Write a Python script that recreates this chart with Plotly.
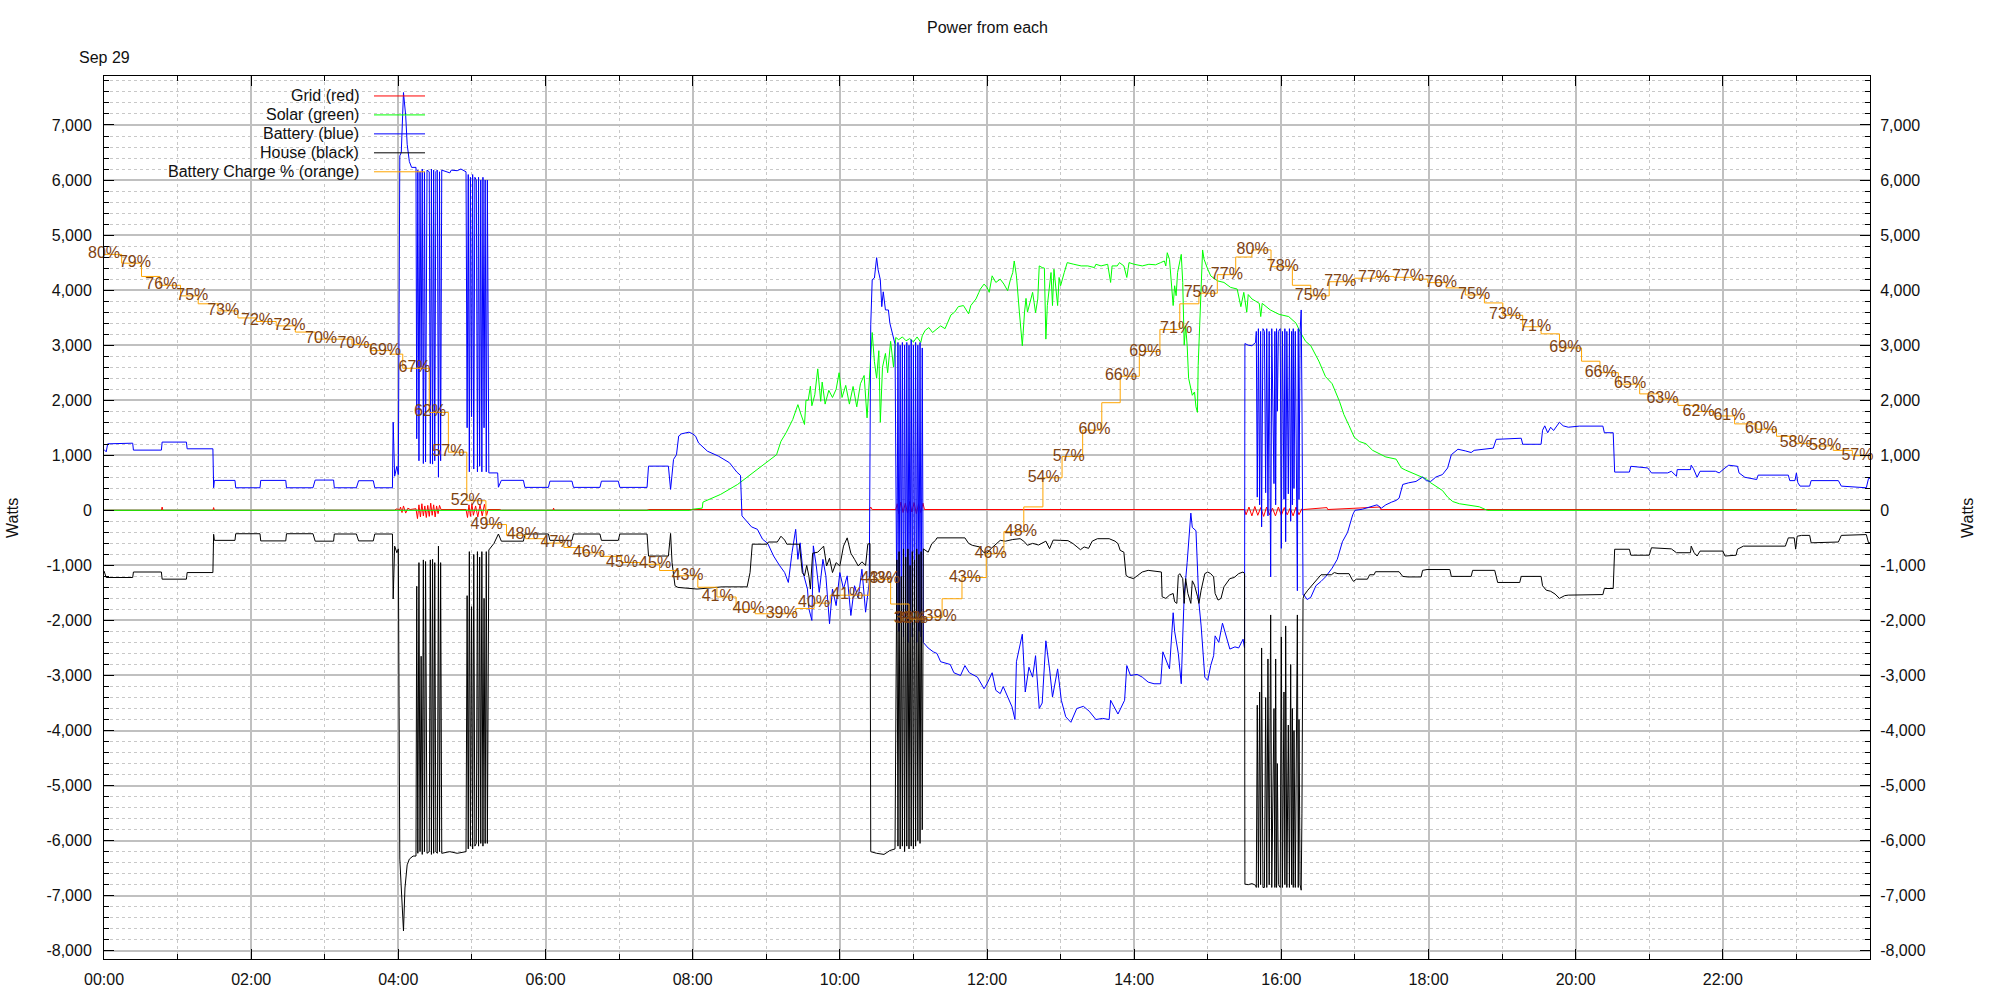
import numpy as np
import pandas as pd
import plotly.graph_objects as go

DAY = "2023-09-29"

# ---------------- data (hour of day, watts) ----------------
GRID = [
    (0.00, 0), (0.78, 0), (0.79, 60), (0.80, 0), (1.48, 0), (1.49, 50), (1.50, 0), (3.95, 0),
    (3.97, 25), (4.02, 15), (4.03, 60), (4.05, -40), (4.07, 80), (4.10, -50), (4.13, 40), (4.16, 15),
    (4.24, 30), (4.26, -150), (4.28, 100), (4.30, -120), (4.32, 120), (4.34, -100), (4.36, 80),
    (4.38, -130), (4.40, 90), (4.42, -110), (4.44, 130), (4.46, -90), (4.48, 100), (4.50, -120),
    (4.52, 80), (4.54, -60), (4.56, 90), (4.58, 15), (4.92, 15), (4.94, -130), (4.96, 100),
    (4.98, -110), (5.00, 120), (5.02, -90), (5.05, 80), (5.08, -120), (5.11, 100), (5.14, -100),
    (5.17, 110), (5.20, -90), (5.22, 15), (5.38, 15), (5.40, 0), (6.10, 0), (6.11, 40), (6.12, 0),
    (7.38, 0), (7.40, 15), (10.40, 15), (10.42, 60), (10.44, 15), (10.76, 15), (10.78, 120),
    (10.80, -60), (10.83, 150), (10.86, -40), (10.89, 130), (10.92, -50), (10.95, 160), (10.98, -30),
    (11.01, 140), (11.04, -60), (11.07, 120), (11.10, -40), (11.13, 130), (11.15, 15), (15.50, 15),
    (15.52, -80), (15.56, 60), (15.60, -100), (15.64, 70), (15.68, -90), (15.72, 50), (15.76, -110),
    (15.80, 60), (15.84, -80), (15.88, 40), (15.92, -100), (15.96, 60), (16.00, -90), (16.04, 50),
    (16.08, -80), (16.12, 40), (16.16, -100), (16.20, 60), (16.24, -80), (16.28, 30), (16.30, 15),
    (16.62, 50), (16.63, 15), (17.34, 60), (17.35, 15), (23.00, 15), (23.01, 0), (24.00, 0),
]

SOLAR = [
    (0.00, 0), (7.96, 0), (8.00, 20), (8.13, 40), (8.14, 150), (8.38, 290), (8.61, 470), (8.79, 650),
    (8.92, 775), (9.06, 925), (9.14, 1010), (9.20, 1255), (9.27, 1410), (9.36, 1650), (9.43, 1920),
    (9.47, 1750), (9.52, 1560), (9.54, 2000), (9.57, 2000), (9.60, 2255), (9.62, 1900), (9.66, 2100),
    (9.68, 2330), (9.70, 2570), (9.74, 1980), (9.76, 2330), (9.80, 1930), (9.85, 2180), (9.90, 2050),
    (9.95, 2200), (9.99, 2500), (10.03, 2050), (10.08, 2270), (10.13, 1930), (10.18, 2250),
    (10.23, 1880), (10.28, 2300), (10.33, 2450), (10.37, 1680), (10.42, 2880), (10.44, 3230),
    (10.47, 2700), (10.50, 2400), (10.53, 2900), (10.55, 1600), (10.58, 2600), (10.62, 2850),
    (10.65, 2500), (10.69, 3070), (10.73, 2600), (10.76, 3140), (10.80, 3100), (10.85, 3150),
    (10.90, 3080), (10.95, 3120), (11.00, 3060), (11.05, 3150), (11.10, 3050), (11.12, 3170),
    (11.16, 3270), (11.21, 3320), (11.26, 3230), (11.30, 3280), (11.37, 3350), (11.43, 3300),
    (11.48, 3480), (11.51, 3550), (11.56, 3600), (11.61, 3700), (11.68, 3720), (11.72, 3630),
    (11.75, 3570), (11.78, 3720), (11.85, 3840), (11.89, 3960), (11.91, 4020), (11.96, 4110),
    (12.00, 4050), (12.03, 3960), (12.07, 4260), (12.12, 4140), (12.18, 4200), (12.23, 4110),
    (12.28, 3990), (12.32, 4200), (12.35, 4320), (12.37, 4530), (12.40, 4260), (12.44, 3600),
    (12.46, 3350), (12.48, 2990), (12.51, 3600), (12.53, 3850), (12.55, 3600), (12.60, 3840),
    (12.62, 3960), (12.64, 3780), (12.66, 3590), (12.69, 3840), (12.71, 4440), (12.75, 4410),
    (12.78, 4400), (12.80, 3110), (12.82, 3720), (12.87, 4320), (12.89, 3720), (12.91, 4380),
    (12.96, 3720), (12.98, 4230), (13.00, 4080), (13.05, 4320), (13.09, 4500), (13.18, 4470),
    (13.28, 4440), (13.37, 4440), (13.46, 4410), (13.48, 4470), (13.55, 4440), (13.64, 4470),
    (13.68, 4140), (13.70, 4440), (13.77, 4440), (13.80, 4500), (13.86, 4440), (13.90, 4230),
    (13.93, 4500), (14.00, 4470), (14.11, 4440), (14.20, 4470), (14.29, 4460), (14.36, 4500),
    (14.41, 4530), (14.43, 4440), (14.45, 4680), (14.48, 4560), (14.50, 4200), (14.53, 3720),
    (14.55, 4080), (14.57, 3900), (14.59, 4320), (14.62, 4560), (14.64, 4650), (14.66, 4140),
    (14.68, 3000), (14.70, 3350), (14.72, 3000), (14.74, 2400), (14.77, 2210), (14.79, 2090),
    (14.82, 2150), (14.84, 1880), (14.86, 1780), (14.87, 2630), (14.89, 3350), (14.91, 4140),
    (14.93, 4730), (14.95, 4560), (14.98, 4440), (15.00, 4380), (15.04, 4260), (15.13, 4170),
    (15.22, 4140), (15.31, 4050), (15.40, 4020), (15.45, 3700), (15.49, 3960), (15.53, 3600),
    (15.55, 3920), (15.60, 3840), (15.65, 3800), (15.70, 3760), (15.72, 3520), (15.74, 3760),
    (15.85, 3640), (15.97, 3560), (16.10, 3520), (16.20, 3400), (16.26, 3230), (16.33, 3070),
    (16.40, 2990), (16.51, 2710), (16.60, 2430), (16.69, 2300), (16.79, 1980), (16.85, 1740),
    (16.92, 1540), (16.99, 1330), (17.06, 1250), (17.15, 1210), (17.24, 1090), (17.42, 970),
    (17.56, 930), (17.63, 770), (17.69, 730), (17.83, 650), (17.97, 570), (18.03, 500), (18.10, 445),
    (18.19, 360), (18.26, 240), (18.33, 160), (18.42, 120), (18.56, 97), (18.69, 65), (18.80, 0),
    (24.00, 0),
]

BATTERY = [
    (0.00, 1105), (0.03, 1063), (0.05, 1208), (0.39, 1220), (0.40, 1094), (0.78, 1094), (0.79, 1240),
    (1.12, 1240), (1.13, 1118), (1.48, 1118), (1.49, 410), (1.50, 544), (1.78, 544), (1.79, 410),
    (2.12, 410), (2.13, 544), (2.47, 544), (2.48, 410), (2.84, 410), (2.87, 550), (3.12, 550),
    (3.13, 410), (3.43, 410), (3.46, 538), (3.66, 538), (3.68, 410), (3.92, 410), (3.93, 1600),
    (3.95, 620), (3.98, 800), (4.00, 650), (4.02, 6440), (4.04, 6500), (4.07, 7590), (4.10, 7170),
    (4.12, 6650), (4.15, 6335), (4.18, 6230),
    (4.240, 6230), (4.250, 1300), (4.265, 6180), (4.280, 900), (4.295, 6150), (4.310, 2600),
    (4.325, 6200), (4.340, 850), (4.355, 6150), (4.370, 880), (4.390, 6180), (4.420, 6150),
    (4.435, 850), (4.450, 6200), (4.465, 840), (4.480, 6180), (4.495, 900), (4.510, 6150),
    (4.530, 6180), (4.545, 600), (4.560, 6150), (4.575, 900), (4.590, 6180),
    (4.65, 6150), (4.70, 6130), (4.72, 6180), (4.80, 6170), (4.85, 6200), (4.90, 6160),
    (4.920, 6150), (4.935, 1500), (4.950, 6100), (4.965, 700), (4.980, 6050), (4.995, 1700),
    (5.010, 6100), (5.025, 750), (5.040, 6050), (5.060, 6000), (5.075, 700), (5.090, 6050),
    (5.105, 800), (5.120, 6000), (5.135, 700), (5.150, 6050), (5.165, 1500), (5.180, 6000),
    (5.195, 700), (5.210, 6000), (5.222, 1600), (5.230, 680),
    (5.35, 680), (5.36, 420), (5.40, 545), (5.70, 545), (5.72, 417), (6.04, 417), (6.06, 530),
    (6.36, 530), (6.38, 417), (6.74, 417), (6.76, 530), (6.99, 530), (7.01, 417), (7.38, 417),
    (7.40, 803), (7.67, 803), (7.70, 380), (7.74, 925), (7.78, 1010), (7.81, 1350), (7.85, 1390),
    (7.95, 1420), (8.00, 1390), (8.04, 1347), (8.08, 1225), (8.20, 1075), (8.35, 985), (8.50, 865),
    (8.60, 695), (8.65, 635), (8.67, -100), (8.72, -180), (8.80, -300), (8.88, -345), (8.95, -525),
    (9.02, -600), (9.10, -830), (9.18, -1000), (9.25, -1130), (9.30, -1310), (9.35, -770),
    (9.40, -345), (9.43, -890), (9.46, -590), (9.50, -1130), (9.56, -1430), (9.58, -1790),
    (9.62, -2000), (9.64, -645), (9.68, -1010), (9.72, -1490), (9.77, -890), (9.81, -1190),
    (9.86, -2060), (9.90, -1430), (9.95, -1730), (10.00, -1130), (10.05, -1430), (10.10, -1190),
    (10.15, -1910), (10.20, -1370), (10.25, -1600), (10.30, -1070), (10.35, -1850), (10.40, -1300),
    (10.42, 3370), (10.44, 4190), (10.47, 4220), (10.50, 4590), (10.52, 4370), (10.55, 4190),
    (10.57, 3700), (10.59, 3970), (10.62, 3640), (10.66, 3640), (10.68, 3400), (10.71, 3220),
    (10.75, 3020),
    (10.775, -1900), (10.79, 3050), (10.805, -2200), (10.82, 3000), (10.835, -1700), (10.85, 3050),
    (10.865, -2300), (10.88, 3000), (10.895, -2000), (10.91, 3050), (10.925, -2400), (10.94, 3000),
    (10.955, -1900), (10.97, 3100), (10.985, -2300), (11.00, 3000), (11.015, -2000), (11.03, 3050),
    (11.045, -2400), (11.06, 3000), (11.075, -2200), (11.09, 3050), (11.105, -2300), (11.12, 2950),
    (11.135, -2400),
    (11.20, -2500), (11.27, -2570), (11.32, -2600), (11.37, -2750), (11.45, -2780), (11.50, -2800),
    (11.55, -2950), (11.64, -3000), (11.70, -2820), (11.76, -2950), (11.87, -3030), (11.96, -3240),
    (12.00, -3150), (12.05, -3000), (12.07, -2950), (12.12, -3270), (12.18, -3330), (12.22, -3200),
    (12.28, -3390), (12.34, -3570), (12.38, -3800), (12.40, -2750), (12.48, -2250), (12.52, -3300),
    (12.57, -2850), (12.62, -3030), (12.66, -2640), (12.71, -3600), (12.75, -3500), (12.80, -2370),
    (12.85, -2880), (12.89, -3390), (12.96, -2880), (13.01, -3450), (13.07, -3750), (13.14, -3850),
    (13.22, -3600), (13.31, -3560), (13.39, -3650), (13.48, -3800), (13.57, -3780), (13.66, -3800),
    (13.68, -3450), (13.74, -3600), (13.78, -3700), (13.87, -3450), (13.90, -2820), (13.95, -3000),
    (14.04, -2980), (14.11, -3030), (14.19, -3120), (14.27, -3150), (14.36, -3150), (14.39, -2570),
    (14.43, -2700), (14.48, -2880), (14.53, -1860), (14.55, -2200), (14.60, -2600), (14.64, -3150),
    (14.66, -2300), (14.68, -1550), (14.72, -950), (14.77, -50), (14.79, -310), (14.84, -370),
    (14.88, -1680), (14.91, -2100), (14.96, -3030), (15.00, -3090), (15.04, -2820), (15.08, -2640),
    (15.10, -2280), (15.15, -2400), (15.20, -2050), (15.25, -2300), (15.30, -2520), (15.37, -2480),
    (15.42, -2500), (15.48, -2340), (15.50, -2500),
    (15.505, 3030), (15.55, 3000), (15.60, 2990), (15.65, 3050),
    (15.660, 3250), (15.673, 240), (15.688, 3300), (15.705, 100), (15.718, 3250), (15.732, -300),
    (15.750, 3300), (15.770, 3250), (15.787, 320), (15.802, 3300), (15.818, -100), (15.835, 3250),
    (15.855, -1210), (15.870, 3300), (15.900, 485), (15.912, 3250), (15.923, 100), (15.935, 3300),
    (15.946, 1800), (15.960, 3250), (15.985, 3300), (16.000, -690), (16.015, 3250), (16.036, 200),
    (16.048, 3300), (16.059, -570), (16.075, 3250), (16.095, 300), (16.110, 3300), (16.127, -200),
    (16.140, 3250), (16.150, 100), (16.162, 3300), (16.172, 400), (16.190, 3250), (16.218, -1460),
    (16.230, 3300), (16.240, 200), (16.255, 3250), (16.270, 3640), (16.280, 2000), (16.295, -1540),
    (16.31, -1540), (16.35, -1620), (16.40, -1580), (16.47, -1370), (16.54, -1290), (16.60, -1210),
    (16.69, -1050), (16.76, -890), (16.83, -570), (16.90, -400), (16.97, -80), (17.00, 0),
    (17.10, 20), (17.20, 60), (17.30, 100), (17.36, 40), (17.42, 100), (17.50, 150), (17.56, 180),
    (17.60, 220), (17.65, 470), (17.73, 500), (17.83, 525), (17.92, 605), (17.97, 540), (18.03, 525),
    (18.10, 605), (18.19, 650), (18.26, 770), (18.31, 1010), (18.40, 1110), (18.50, 1080),
    (18.58, 1050), (18.62, 1090), (18.78, 1110), (18.88, 1130), (18.92, 1290), (19.26, 1310),
    (19.28, 1200), (19.53, 1200), (19.55, 1455), (19.58, 1535), (19.62, 1410), (19.66, 1510),
    (19.70, 1450), (19.78, 1600), (19.83, 1535), (19.90, 1510), (20.05, 1530), (20.37, 1530),
    (20.39, 1410), (20.51, 1410), (20.53, 695), (20.73, 695), (20.75, 800), (20.98, 770),
    (21.03, 680), (21.25, 680), (21.30, 710), (21.37, 620), (21.38, 740), (21.56, 740), (21.57, 820),
    (21.60, 760), (21.65, 600), (21.69, 710), (21.90, 710), (21.95, 680), (22.03, 770), (22.08, 820),
    (22.20, 800), (22.22, 680), (22.30, 600), (22.46, 560), (22.48, 640), (22.89, 640), (22.91, 540),
    (22.98, 540), (23.00, 680), (23.02, 500), (23.05, 440), (23.18, 440), (23.20, 540), (23.57, 540),
    (23.61, 440), (23.95, 410), (23.98, 580), (24.00, 580),
]

HOUSE = [
    (0.00, -1100), (0.03, -1220), (0.39, -1220), (0.40, -1120), (0.78, -1120), (0.79, -1250),
    (1.12, -1250), (1.13, -1130), (1.48, -1130), (1.49, -435), (1.50, -545), (1.78, -545),
    (1.79, -425), (2.12, -425), (2.13, -555), (2.47, -555), (2.48, -425), (2.84, -425), (2.87, -560),
    (3.12, -560), (3.13, -430), (3.43, -430), (3.46, -555), (3.66, -555), (3.68, -430), (3.92, -430),
    (3.93, -1610), (3.95, -650), (3.98, -770), (4.00, -700), (4.02, -6335), (4.05, -7280),
    (4.07, -7640), (4.09, -6860), (4.12, -6440), (4.15, -6335), (4.20, -6280),
    (4.240, -6280), (4.250, -1380), (4.265, -6230), (4.280, -950), (4.295, -6200), (4.310, -2650),
    (4.325, -6250), (4.340, -900), (4.355, -6200), (4.370, -930), (4.390, -6230), (4.420, -6200),
    (4.435, -900), (4.450, -6250), (4.465, -890), (4.480, -6230), (4.495, -950), (4.510, -6200),
    (4.530, -6230), (4.545, -650), (4.560, -6200), (4.575, -950), (4.590, -6230),
    (4.70, -6200), (4.80, -6230), (4.90, -6210),
    (4.920, -6200), (4.935, -1550), (4.950, -6150), (4.965, -750), (4.980, -6100), (4.995, -1750),
    (5.010, -6150), (5.025, -800), (5.040, -6100), (5.060, -6050), (5.075, -750), (5.090, -6100),
    (5.105, -850), (5.120, -6050), (5.135, -750), (5.150, -6100), (5.165, -1600), (5.180, -6050),
    (5.195, -750), (5.210, -6050), (5.222, -1650), (5.230, -720),
    (5.30, -600), (5.36, -430), (5.40, -560), (5.70, -560), (5.72, -430), (6.04, -430), (6.06, -545),
    (6.36, -545), (6.38, -430), (6.74, -430), (6.76, -545), (6.99, -545), (7.01, -430), (7.38, -430),
    (7.40, -830), (7.67, -830), (7.70, -420), (7.72, -950), (7.76, -1370), (7.80, -1400),
    (8.06, -1430), (8.40, -1390), (8.74, -1390), (8.78, -1130), (8.81, -615), (9.01, -615),
    (9.03, -575), (9.15, -575), (9.20, -470), (9.25, -540), (9.28, -615), (9.45, -615), (9.49, -1130),
    (9.52, -1190), (9.55, -1000), (9.58, -1200), (9.60, -1430), (9.63, -780), (9.70, -760),
    (9.78, -650), (9.82, -1010), (9.86, -870), (9.90, -1130), (9.95, -950), (10.00, -1010),
    (10.05, -650), (10.10, -500), (10.15, -780), (10.20, -890), (10.25, -1010), (10.30, -935),
    (10.35, -1000), (10.38, -615), (10.41, -600),
    (10.42, -6200), (10.50, -6230), (10.60, -6250), (10.68, -6180), (10.75, -6150),
    (10.775, -900), (10.79, -6100), (10.805, -750), (10.82, -6150), (10.835, -1200), (10.85, -6100),
    (10.865, -700), (10.88, -6200), (10.895, -850), (10.91, -6100), (10.925, -700), (10.94, -6150),
    (10.955, -1000), (10.97, -6100), (10.985, -750), (11.00, -6150), (11.015, -900), (11.03, -6100),
    (11.045, -700), (11.06, -6000), (11.075, -800), (11.09, -6050), (11.105, -750), (11.12, -5800),
    (11.135, -700),
    (11.20, -760), (11.25, -605), (11.30, -545), (11.32, -500), (11.70, -500), (11.75, -600),
    (11.80, -635), (11.90, -665), (11.95, -760), (12.00, -780), (12.05, -700), (12.18, -545),
    (12.25, -560), (12.35, -530), (12.45, -515), (12.50, -560), (12.55, -635), (12.62, -600),
    (12.70, -630), (12.80, -560), (12.85, -696), (12.90, -540), (13.00, -545), (13.10, -550),
    (13.17, -605), (13.22, -660), (13.27, -715), (13.32, -665), (13.38, -690), (13.43, -560),
    (13.50, -515), (13.66, -515), (13.74, -560), (13.78, -605), (13.81, -727), (13.86, -760),
    (13.89, -1180), (13.92, -1210), (13.99, -1240), (14.05, -1180), (14.11, -1120), (14.19, -1090),
    (14.30, -1100), (14.37, -1120), (14.38, -1570), (14.43, -1600), (14.48, -1540), (14.53, -1510),
    (14.55, -1660), (14.58, -1690), (14.60, -1180), (14.62, -1150), (14.66, -1240), (14.68, -1690),
    (14.70, -1240), (14.73, -1510), (14.77, -1690), (14.79, -1280), (14.82, -1360), (14.84, -1450),
    (14.86, -1560), (14.88, -1690), (14.91, -1450), (14.96, -1150), (15.00, -1120), (15.04, -1150),
    (15.08, -1210), (15.10, -1510), (15.12, -1570), (15.14, -1630), (15.18, -1600), (15.22, -1390),
    (15.30, -1240), (15.36, -1220), (15.42, -1150), (15.48, -1120), (15.50, -1150),
    (15.505, -6790), (15.55, -6800), (15.60, -6780), (15.65, -6810),
    (15.660, -6850), (15.673, -3540), (15.688, -6850), (15.705, -3300), (15.718, -6800),
    (15.732, -2500), (15.750, -6850), (15.770, -6850), (15.787, -3400), (15.802, -6850),
    (15.818, -2700), (15.835, -6800), (15.855, -1900), (15.870, -6850), (15.900, -3600),
    (15.912, -6850), (15.923, -2700), (15.935, -6850), (15.946, -4600), (15.960, -6800),
    (15.985, -6850), (16.000, -2300), (16.015, -6850), (16.036, -3300), (16.048, -6800),
    (16.059, -2100), (16.075, -6850), (16.095, -3900), (16.110, -6850), (16.127, -2800),
    (16.140, -6800), (16.150, -3600), (16.162, -6850), (16.172, -4000), (16.190, -6850),
    (16.218, -1900), (16.230, -6850), (16.240, -3800), (16.255, -6800), (16.270, -6900),
    (16.280, -5500), (16.295, -1600),
    (16.31, -1540), (16.36, -1450), (16.47, -1290), (16.54, -1170), (16.68, -1170), (16.72, -1130),
    (16.77, -1150), (16.92, -1150), (16.96, -1250), (16.98, -1290), (17.02, -1250), (17.17, -1250),
    (17.20, -1170), (17.26, -1170), (17.28, -1115), (17.60, -1115), (17.65, -1200), (17.72, -1210),
    (17.90, -1210), (17.92, -1090), (17.98, -1075), (18.29, -1075), (18.31, -1200), (18.58, -1200),
    (18.60, -1090), (18.90, -1090), (18.94, -1310), (19.24, -1310), (19.26, -1200), (19.53, -1200),
    (19.55, -1370), (19.60, -1450), (19.66, -1470), (19.72, -1520), (19.78, -1600), (19.85, -1550),
    (19.90, -1540), (20.37, -1530), (20.39, -1420), (20.51, -1420), (20.53, -707), (20.73, -707),
    (20.75, -815), (21.00, -815), (21.03, -680), (21.25, -690), (21.30, -700), (21.37, -770),
    (21.56, -770), (21.57, -650), (21.61, -770), (21.65, -830), (21.69, -740), (22.00, -740),
    (22.03, -830), (22.18, -815), (22.20, -705), (22.28, -650), (22.85, -650), (22.89, -500),
    (22.97, -500), (22.99, -705), (23.01, -470), (23.07, -455), (23.18, -455), (23.20, -590),
    (23.57, -575), (23.61, -455), (23.95, -440), (23.98, -590), (24.00, -590),
]

# battery state of charge (hour, percent), drawn as steps
CHARGE = [
    (0.00, 79.8), (0.24, 78.8), (0.51, 77.3), (0.76, 76.3), (1.04, 75.1), (1.28, 74.2), (1.55, 73.4),
    (1.82, 72.6), (2.07, 72.2), (2.34, 71.7), (2.60, 71.0), (2.87, 70.2), (3.37, 69.6), (3.63, 68.9),
    (3.89, 68.5), (4.06, 66.9), (4.42, 61.9), (4.68, 57.4), (4.93, 51.9), (5.19, 49.2), (5.47, 48.0),
    (5.73, 47.6), (5.99, 47.1), (6.25, 46.6), (6.51, 46.0), (6.77, 45.6), (7.03, 44.9), (7.29, 44.7),
    (7.55, 44.0), (7.81, 43.4), (8.07, 42.1), (8.33, 41.0), (8.59, 39.6), (8.85, 39.1), (9.40, 39.7),
    (9.65, 40.3), (9.87, 41.2), (10.40, 43.0), (10.69, 40.2), (10.94, 38.5), (11.17, 38.7),
    (11.39, 40.8), (11.66, 43.2), (11.99, 45.9), (12.23, 48.4), (12.50, 51.2), (12.76, 54.5),
    (13.02, 56.9), (13.30, 59.9), (13.56, 63.0), (13.81, 66.0), (14.07, 68.8), (14.35, 71.3),
    (14.62, 74.2), (14.88, 75.4), (15.13, 77.5), (15.38, 79.5), (15.60, 80.3), (15.86, 78.4),
    (16.15, 76.3), (16.40, 75.1), (16.65, 76.7), (16.99, 77.1), (17.28, 77.3), (17.53, 77.2),
    (17.78, 77.0), (17.99, 76.6), (18.24, 76.0), (18.50, 75.2), (18.76, 74.3), (19.01, 72.9),
    (19.28, 71.6), (19.53, 70.8), (19.78, 69.2), (20.08, 67.7), (20.33, 66.4), (20.58, 65.1),
    (20.87, 64.0), (21.13, 63.4), (21.39, 62.7), (21.66, 62.0), (21.88, 61.5), (22.16, 60.6),
    (22.46, 60.0), (22.73, 59.2), (22.98, 58.4), (23.24, 58.1), (23.50, 57.6), (23.76, 57.0),
    (24.00, 57.0),
]

CHARGE_LABEL_HOURS = [
    0.00, 0.42, 0.78, 1.20, 1.62, 2.08, 2.52, 2.95, 3.39, 3.82, 4.22, 4.43, 4.68, 4.93, 5.20, 5.69,
    6.15, 6.59, 7.04, 7.49, 7.93, 8.34, 8.76, 9.21, 9.65, 10.10, 10.50, 10.60, 10.95, 10.98, 11.37,
    11.70, 12.05, 12.46, 12.77, 13.11, 13.46, 13.82, 14.15, 14.57, 14.89, 15.26, 15.61, 16.02, 16.40,
    16.80, 17.26, 17.72, 18.17, 18.62, 19.04, 19.45, 19.86, 20.34, 20.74, 21.18, 21.67, 22.09, 22.52,
    22.99, 23.39, 23.83,
]
CHARGE_LABEL_TEXT = [
    "80%", "79%", "76%", "75%", "73%", "72%", "72%", "70%", "70%", "69%", "67%", "62%", "57%", "52%",
    "49%", "48%", "47%", "46%", "45%", "45%", "43%", "41%", "40%", "39%", "40%", "41%", "43%", "43%",
    "39%", "38%", "39%", "43%", "46%", "48%", "54%", "57%", "60%", "66%", "69%", "71%", "75%", "77%",
    "80%", "78%", "75%", "77%", "77%", "77%", "76%", "75%", "73%", "71%", "69%", "66%", "65%", "63%",
    "62%", "61%", "60%", "58%", "58%", "57%",
]

SERIES_NAMES = ["Grid (red)", "Solar (green)", "Battery (blue)", "House (black)",
                "Battery Charge % (orange)"]
SERIES_COLORS = ["#ff0000", "#00ff00", "#0000ff", "#000000", "#ffa500"]

Y_TICKS = list(range(-8000, 8000, 1000))
Y_TICK_TEXT = [f"{v:,}" for v in Y_TICKS]
X_TICK_HOURS = list(range(0, 24, 2))
Y_RANGE = [-8150, 7890]

# ---------------- helpers ----------------
BASE = pd.Timestamp(DAY)


def to_time(hours):
    return list(BASE + pd.to_timedelta(np.asarray(hours, dtype=float), unit="h"))


def split(pairs):
    a = np.array(pairs, dtype=float)
    return to_time(a[:, 0]), a[:, 1]


W, H = 2000, 1000
ML, MR, MT, MB = 104, 130, 76, 39


def pxx(px):
    return (px - ML) / (W - ML - MR)


def pxy(py):
    return (H - MB - py) / (H - MT - MB)


FONT = "Liberation Sans, Arial, sans-serif"
TXT = "#111111"

fig = go.Figure()

for pairs, name, color in zip([GRID, SOLAR, BATTERY, HOUSE], SERIES_NAMES[:4], SERIES_COLORS[:4]):
    x, y = split(pairs)
    fig.add_trace(go.Scatter(x=x, y=y, mode="lines", name=name,
                             line=dict(color=color, width=1), showlegend=False,
                             hoverinfo="skip"))

cx, cy = split(CHARGE)
fig.add_trace(go.Scatter(x=cx, y=cy, mode="lines", yaxis="y2", name=SERIES_NAMES[4],
                         line=dict(color=SERIES_COLORS[4], width=1, shape="hv"),
                         showlegend=False, hoverinfo="skip"))

# labels sit on the charge line at their time
charge_h = np.array(CHARGE)[:, 0]
charge_v = np.array(CHARGE)[:, 1]
idx = np.searchsorted(charge_h, np.array(CHARGE_LABEL_HOURS), side="right") - 1
label_level = charge_v[np.clip(idx, 0, len(charge_v) - 1)]
fig.add_trace(go.Scatter(x=to_time(CHARGE_LABEL_HOURS), y=label_level, yaxis="y2",
                         mode="text", text=CHARGE_LABEL_TEXT, textposition="middle center",
                         textfont=dict(family=FONT, size=16, color="#7f4312"),
                         cliponaxis=False, showlegend=False, hoverinfo="skip"))

# dummy trace so the right-hand mirror axis is drawn
fig.add_trace(go.Scatter(x=to_time([0]), y=[0], yaxis="y3", mode="lines",
                         line=dict(width=0), showlegend=False, hoverinfo="skip"))

MAJOR_GRID = "#c0c0c0"
MINOR_GRID = "#c8c8c8"

fig.update_layout(
    width=W, height=H,
    margin=dict(l=ML, r=MR, t=MT, b=MB, pad=0),
    paper_bgcolor="white", plot_bgcolor="white",
    showlegend=False,
    font=dict(family=FONT, size=16, color=TXT),
    xaxis=dict(
        type="date", range=to_time([0, 24]),
        tickmode="array", tickvals=to_time(X_TICK_HOURS),
        ticktext=[f"{h:02d}:00" for h in X_TICK_HOURS],
        ticks="inside", ticklen=10, tickwidth=1, tickcolor="black",
        showline=True, linecolor="black", linewidth=1, mirror="ticks",
        showgrid=True, gridcolor=MAJOR_GRID, gridwidth=2, zeroline=False,
        ticklabelstandoff=6,
        tickfont=dict(family=FONT, size=16, color=TXT),
        minor=dict(tickmode="linear", tick0=to_time([0])[0], dtick=3600000,
                   ticks="inside", ticklen=5, tickwidth=1, tickcolor="black",
                   showgrid=True, gridcolor=MINOR_GRID, gridwidth=1, griddash="3px,3px"),
    ),
    yaxis=dict(
        range=Y_RANGE, tickmode="array", tickvals=Y_TICKS, ticktext=Y_TICK_TEXT,
        ticks="inside", ticklen=10, tickwidth=1, tickcolor="black",
        showline=True, linecolor="black", linewidth=1,
        showgrid=True, gridcolor=MAJOR_GRID, gridwidth=2, zeroline=False,
        ticklabelstandoff=8,
        tickfont=dict(family=FONT, size=16, color=TXT),
        minor=dict(tickmode="linear", tick0=0, dtick=200, ticks="inside", ticklen=5,
                   tickwidth=1, tickcolor="black", showgrid=True, gridcolor=MINOR_GRID,
                   gridwidth=1, griddash="3px,3px"),
    ),
    yaxis2=dict(range=[0, 100], overlaying="y", visible=False),
    yaxis3=dict(
        range=Y_RANGE, overlaying="y", side="right",
        tickmode="array", tickvals=Y_TICKS, ticktext=Y_TICK_TEXT,
        ticks="inside", ticklen=10, tickwidth=1, tickcolor="black",
        showline=True, linecolor="black", linewidth=1,
        showgrid=False, zeroline=False, ticklabelstandoff=6,
        tickfont=dict(family=FONT, size=16, color=TXT),
        minor=dict(tickmode="linear", tick0=0, dtick=200, ticks="inside", ticklen=5,
                   tickwidth=1, tickcolor="black", showgrid=False),
    ),
)

shapes = [
    # white key box hiding the grid (traces stay on top)
    dict(type="rect", xref="paper", yref="paper", x0=pxx(105), x1=pxx(433),
         y0=pxy(181), y1=pxy(85), fillcolor="white", line=dict(width=0), layer="between"),
]
annotations = [
    dict(text="Power from each", xref="paper", yref="paper", x=0.5, y=pxy(27),
         xanchor="center", yanchor="middle", showarrow=False, font=dict(size=16, color=TXT)),
    dict(text="Sep 29", xref="paper", yref="paper", x=pxx(77), y=pxy(57),
         xanchor="left", yanchor="middle", showarrow=False, font=dict(size=16, color=TXT)),
    dict(text="Watts", xref="paper", yref="paper", x=pxx(13), y=pxy(519), textangle=-90,
         xanchor="center", yanchor="middle", showarrow=False, font=dict(size=16, color=TXT)),
    dict(text="Watts", xref="paper", yref="paper", x=pxx(1968), y=pxy(519), textangle=-90,
         xanchor="center", yanchor="middle", showarrow=False, font=dict(size=16, color=TXT)),
]
for i, (name, color) in enumerate(zip(SERIES_NAMES, SERIES_COLORS)):
    row_y = 96 + 19 * i
    annotations.append(dict(text=name, xref="paper", yref="paper", x=pxx(361), y=pxy(row_y),
                            xanchor="right", yanchor="middle", showarrow=False,
                            font=dict(size=16, color=TXT)))
    shapes.append(dict(type="line", xref="paper", yref="paper", x0=pxx(374), x1=pxx(425),
                       y0=pxy(row_y), y1=pxy(row_y), line=dict(color=color, width=1),
                       layer="above"))

fig.update_layout(shapes=shapes, annotations=annotations)

fig.write_html("out.html", config={"displayModeBar": False},
               post_script="document.body.style.margin='0px';")
